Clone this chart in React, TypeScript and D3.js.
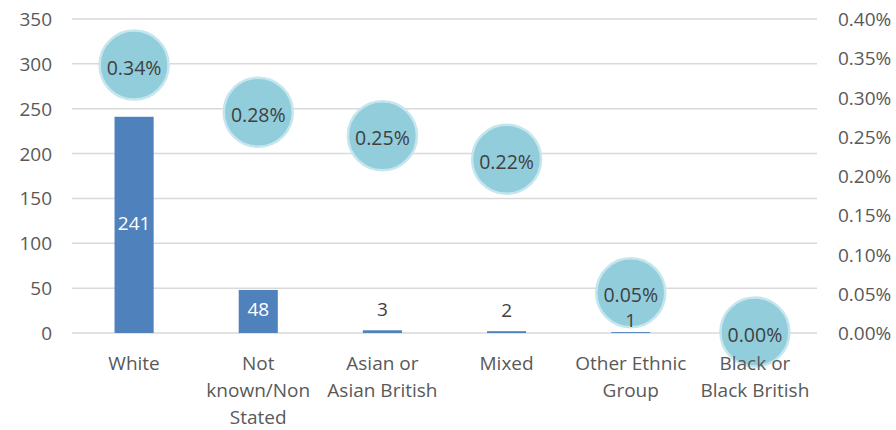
import React from "react";
import * as d3 from "d3";

const categories = [
  "White",
  "Not known/Non Stated",
  "Asian or Asian British",
  "Mixed",
  "Other Ethnic Group",
  "Black or Black British",
];
const categoryLines = [
  ["White"],
  ["Not", "known/Non", "Stated"],
  ["Asian or", "Asian British"],
  ["Mixed"],
  ["Other Ethnic", "Group"],
  ["Black or", "Black British"],
];
const counts = [241, 48, 3, 2, 1, 0];
const percents = [0.34, 0.28, 0.25, 0.22, 0.05, 0.0];
const leftTicks = [0, 50, 100, 150, 200, 250, 300, 350];
const rightTicks = [0, 0.05, 0.1, 0.15, 0.2, 0.25, 0.3, 0.35, 0.4];

const W = 896;
const H = 430;
const M = { left: 72, right: 79, top: 19, bottom: 97 };
const FONT = "'Open Sans', sans-serif";
const TXT = "#595959";

export default function App() {
  const x = d3
    .scaleBand<string>()
    .domain(categories)
    .range([M.left, W - M.right])
    .paddingInner(0.685)
    .paddingOuter(0.3425);
  const y = d3.scaleLinear().domain([0, 350]).range([H - M.bottom, M.top]);
  const y2 = d3.scaleLinear().domain([0, 0.4]).range([H - M.bottom, M.top]);
  const cx = (c: string) => (x(c) ?? 0) + x.bandwidth() / 2;

  return (
    <svg
      width={W}
      height={H}
      style={{ position: "absolute", left: 0, top: 0, background: "#fff" }}
      fontFamily={FONT}
    >
      {leftTicks.map((t) => (
        <line
          key={"g" + t}
          x1={M.left}
          x2={W - M.right}
          y1={y(t)}
          y2={y(t)}
          stroke="#d9d9d9"
          strokeWidth={1.5}
        />
      ))}
      {leftTicks.map((t) => (
        <text
          key={"l" + t}
          x={52}
          y={y(t)}
          textAnchor="end"
          dominantBaseline="central"
          fontSize={19}
          fill={TXT}
        >
          {t}
        </text>
      ))}
      {rightTicks.map((t) => (
        <text
          key={"r" + t}
          x={838}
          y={y2(t)}
          textAnchor="start"
          dominantBaseline="central"
          fontSize={19}
          fill={TXT}
        >
          {d3.format(".2%")(t / 100)}
        </text>
      ))}
      {categories.map((c, i) => (
        <rect
          key={"b" + c}
          x={x(c)}
          y={y(counts[i])}
          width={x.bandwidth()}
          height={y(0) - y(counts[i])}
          fill="#4f81bd"
        />
      ))}
      {categories.map((c, i) => (
        <circle
          key={"c" + c}
          cx={cx(c)}
          cy={y2(percents[i]) - 1}
          r={34.5}
          fill="#92cddc"
          stroke="#c6e6ee"
          strokeWidth={2.5}
        />
      ))}
      {categories.map((c, i) => (
        <text
          key={"p" + c}
          x={cx(c)}
          y={y2(percents[i]) + 1}
          textAnchor="middle"
          dominantBaseline="central"
          fontSize={19.5}
          fill="#404040"
        >
          {d3.format(".2%")(percents[i] / 100)}
        </text>
      ))}
      {categories.map((c, i) => {
        const v = counts[i];
        if (v === 0) return null;
        const inside = y(0) - y(v) > 30;
        let ly = inside ? (y(v) + y(0)) / 2 - 2 : y(v) - 21;
        if (!inside && Math.abs(y2(percents[i]) - ly) < 20) ly = y2(percents[i]) + 26;
        return (
          <text
            key={"v" + c}
            x={cx(c)}
            y={ly}
            textAnchor="middle"
            dominantBaseline="central"
            fontSize={19}
            fill={inside ? "#ffffff" : "#404040"}
          >
            {v}
          </text>
        );
      })}
      {categories.map((c, i) =>
        categoryLines[i].map((ln, j) => (
          <text
            key={"x" + c + j}
            x={cx(c)}
            y={363 + j * 27}
            textAnchor="middle"
            dominantBaseline="central"
            fontSize={19}
            fill={TXT}
          >
            {ln}
          </text>
        ))
      )}
    </svg>
  );
}
